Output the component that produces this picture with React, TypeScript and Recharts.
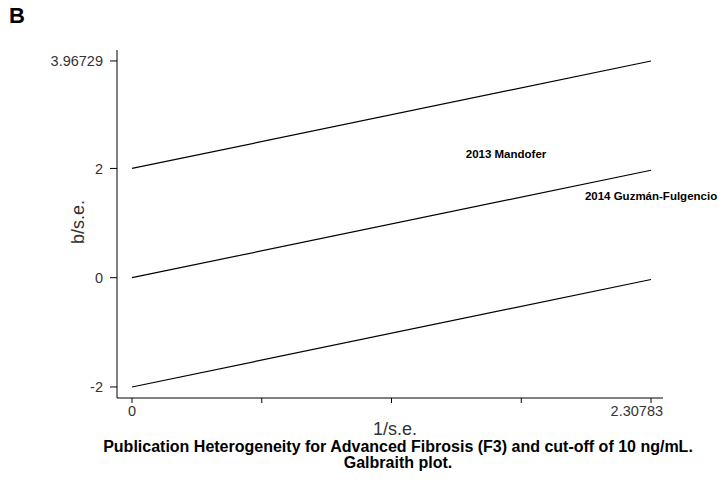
import { Label, Line, LineChart, Scatter, XAxis, YAxis } from 'recharts';

const xTicks = [0, 0.57696, 1.15392, 1.73087, 2.30783];
const xTickLabels = ['0', '', '', '', '2.30783'];
const yTicks = [-2, 0, 2, 3.96729];
const yTickLabels = ['-2', '0', '2', '3.96729'];

const upperLine = [
  { x: 0, y: 2 },
  { x: 2.30783, y: 3.96729 },
];
const middleLine = [
  { x: 0, y: 0 },
  { x: 2.30783, y: 1.96729 },
];
const lowerLine = [
  { x: 0, y: -2 },
  { x: 2.30783, y: -0.03271 },
];

const studies = [
  { x: 1.663, y: 2.264, name: '2013 Mandofer' },
  { x: 2.30783, y: 1.5, name: '2014 Guzmán-Fulgencio' },
];

const font = 'Arial, "Liberation Sans", sans-serif';

const StudyLabel = (props: any) => {
  const { cx, cy, payload } = props;
  return (
    <text
      x={cx}
      y={cy}
      textAnchor="middle"
      dominantBaseline="central"
      fontSize={11.5}
      fontWeight="bold"
      fontFamily={font}
      fill="#000"
    >
      {payload.name}
    </text>
  );
};

const XTick = (props: any) => {
  const { x, y, index } = props;
  const last = index === xTicks.length - 1;
  return (
    <text
      x={last ? x + 12 : x}
      y={y + 1}
      dy="0.71em"
      textAnchor={last ? 'end' : 'middle'}
      fontFamily={font}
      fontSize={14.5}
      fill="#333"
    >
      {xTickLabels[index] ?? ''}
    </text>
  );
};

const YTick = (props: any) => {
  const { x, y, index } = props;
  return (
    <text x={x} y={y} dy="0.355em" textAnchor="end" fontFamily={font} fontSize={14.5} fill="#333">
      {yTickLabels[index]}
    </text>
  );
};

const XTitle = (props: any) => {
  const { viewBox } = props;
  return (
    <text
      x={viewBox.x + viewBox.width / 2 + 5}
      y={viewBox.y + 31}
      textAnchor="middle"
      dominantBaseline="central"
      fontFamily={font}
      fontSize={18}
      fill="#333"
    >
      1/s.e.
    </text>
  );
};

const YTitle = (props: any) => {
  const { viewBox } = props;
  const cx = viewBox.x + 78;
  const cy = viewBox.y + viewBox.height / 2 - 2;
  return (
    <text
      transform={`translate(${cx},${cy}) rotate(-90)`}
      textAnchor="middle"
      dominantBaseline="central"
      fontFamily={font}
      fontSize={18}
      fill="#333"
    >
      b/s.e.
    </text>
  );
};

const App = () => {
  return (
    <div style={{ position: 'absolute', left: 0, top: 0, width: 726, height: 489, background: '#fff' }}>
      <div
        style={{
          position: 'absolute',
          left: 9,
          top: 3,
          fontFamily: font,
          fontWeight: 'bold',
          fontSize: 22,
        }}
      >
        B
      </div>
      <LineChart width={726} height={489} margin={{ top: 50, right: 63, left: 0, bottom: 0 }}>
        <XAxis
          type="number"
          dataKey="x"
          domain={[-0.0667, 2.361]}
          ticks={xTicks}
          interval={0}
          height={91}
          tickSize={5}
          tickMargin={2}
          stroke="#000"
          tick={<XTick />}
        >
          <Label content={<XTitle />} />
        </XAxis>
        <YAxis
          type="number"
          dataKey="y"
          domain={[-2.202, 4.168]}
          ticks={yTicks}
          interval={0}
          width={117}
          tickSize={7}
          tickMargin={7}
          stroke="#000"
          tick={<YTick />}
        >
          <Label content={<YTitle />} />
        </YAxis>
        <Line data={upperLine} dataKey="y" stroke="#000" strokeWidth={1.2} dot={false} isAnimationActive={false} />
        <Line data={middleLine} dataKey="y" stroke="#000" strokeWidth={1.2} dot={false} isAnimationActive={false} />
        <Line data={lowerLine} dataKey="y" stroke="#000" strokeWidth={1.2} dot={false} isAnimationActive={false} />
        <Scatter data={studies} dataKey="y" shape={<StudyLabel />} isAnimationActive={false} />
      </LineChart>
      <div
        style={{
          position: 'absolute',
          left: 48,
          width: 700,
          top: 439,
          textAlign: 'center',
          fontFamily: font,
          fontWeight: 'bold',
          fontSize: 16,
          lineHeight: '16px',
        }}
      >
        Publication Heterogeneity for Advanced Fibrosis (F3) and cut-off of 10 ng/mL.
        <br />
        Galbraith plot.
      </div>
    </div>
  );
};

export default App;
